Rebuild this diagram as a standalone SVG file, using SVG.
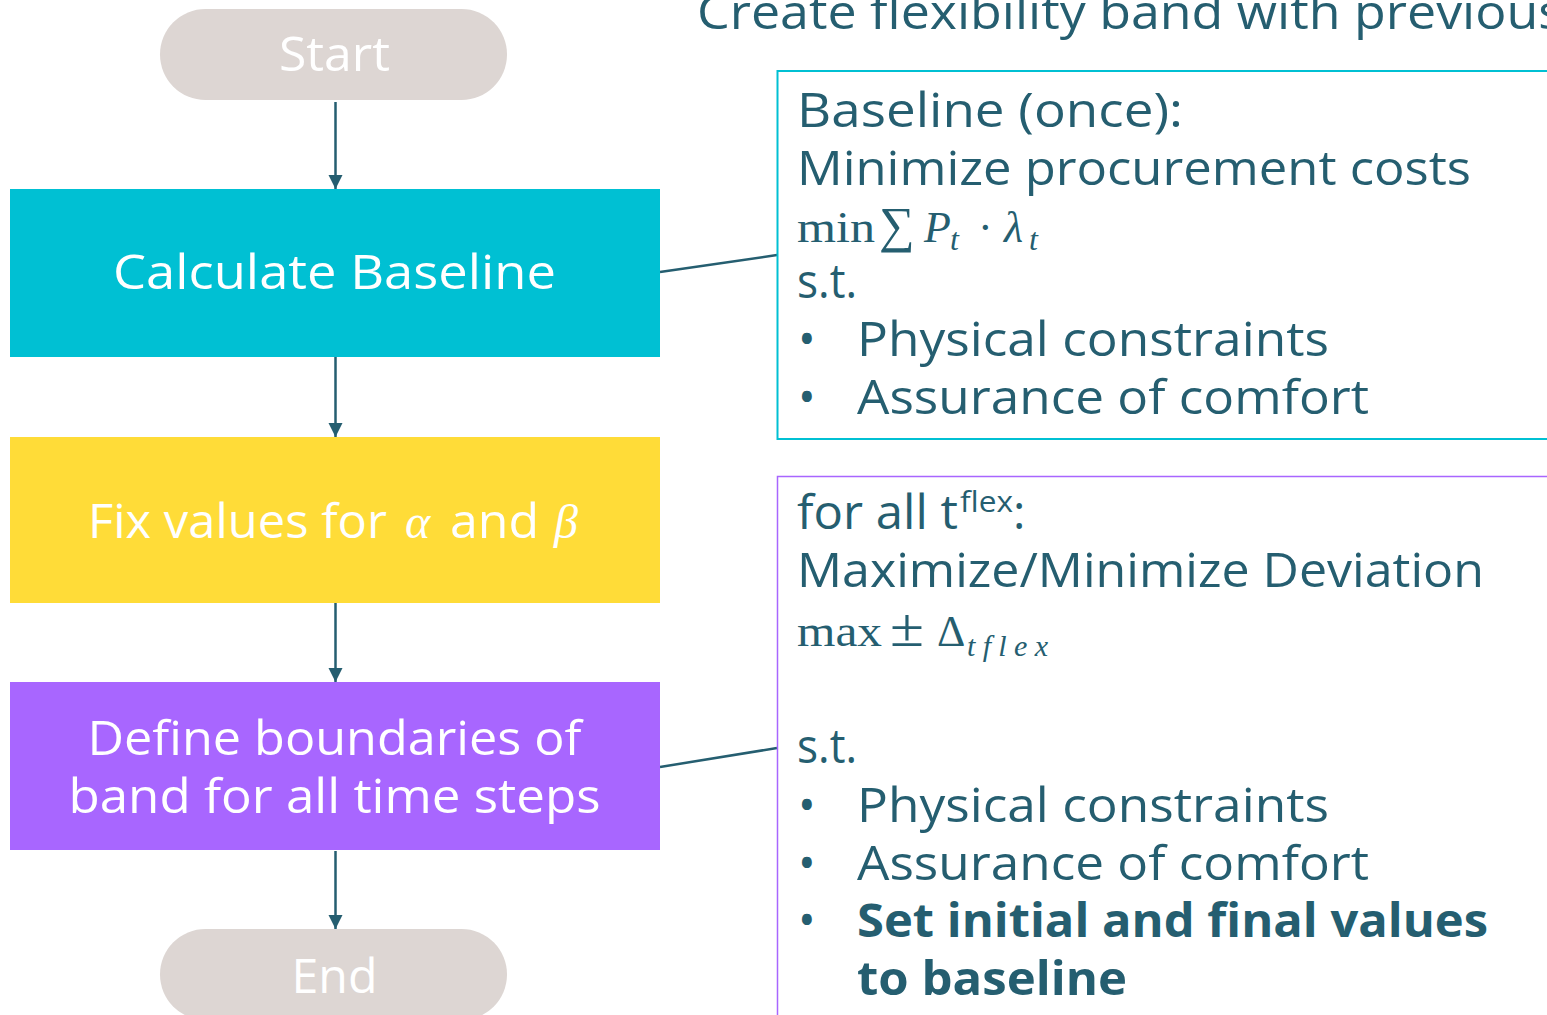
<svg xmlns="http://www.w3.org/2000/svg" width="1547" height="1015" viewBox="0 0 1547 1015">
<defs>
<style>
.t{font-family:"Open Sans","Noto Sans","Liberation Sans",sans-serif;font-size:47px;}
.w{fill:#ffffff;}
.d{fill:#255e70;}
.b{font-weight:700;}
.m{font-family:"Liberation Serif","DejaVu Serif",serif;fill:#255e70;}
.mi{font-style:italic;}
.conn{stroke:#255e70;stroke-width:2.5;fill:none;}
</style>
<marker id="ah" markerUnits="userSpaceOnUse" markerWidth="16" markerHeight="16" refX="14" refY="7" orient="auto">
<path d="M0,0 L14,7 L0,14 z" fill="#255e70"/>
</marker>
</defs>
<rect width="1547" height="1015" fill="#ffffff"/>

<text id="title" class="t d" x="697" y="29" textLength="866" lengthAdjust="spacingAndGlyphs">Create flexibility band with previous</text>

<g id="connectors">
<line class="conn" x1="335.5" y1="102" x2="335.5" y2="189" marker-end="url(#ah)"/>
<line class="conn" x1="335.5" y1="357" x2="335.5" y2="437" marker-end="url(#ah)"/>
<line class="conn" x1="335.5" y1="603" x2="335.5" y2="682" marker-end="url(#ah)"/>
<line class="conn" x1="335.5" y1="851" x2="335.5" y2="929" marker-end="url(#ah)"/>
<line class="conn" x1="660" y1="272" x2="777" y2="255"/>
<line class="conn" x1="660" y1="767" x2="777" y2="748"/>
</g>

<g id="start">
<rect x="160" y="9" width="347" height="91" rx="45.5" fill="#ddd6d3"/>
<text class="t w" x="334.5" y="71" text-anchor="middle" textLength="111" lengthAdjust="spacingAndGlyphs">Start</text>
</g>

<g id="calc">
<rect x="10" y="189" width="650" height="168" fill="#00c0d3"/>
<text class="t w" x="334.5" y="289" text-anchor="middle" textLength="443" lengthAdjust="spacingAndGlyphs">Calculate Baseline</text>
</g>

<g id="fix">
<rect x="10" y="437" width="650" height="166" fill="#ffdc38"/>
<text class="t w" y="538"><tspan x="88" textLength="299" lengthAdjust="spacingAndGlyphs">Fix values for</tspan><tspan x="405" font-family="Liberation Serif,serif" font-style="italic" font-size="48">α</tspan><tspan x="450" textLength="89" lengthAdjust="spacingAndGlyphs">and</tspan><tspan x="554" font-family="Liberation Serif,serif" font-style="italic" font-size="48">β</tspan></text>
</g>

<g id="define">
<rect x="10" y="682" width="650" height="168" fill="#a866ff"/>
<text class="t w" x="334.5" y="755" text-anchor="middle" textLength="494" lengthAdjust="spacingAndGlyphs">Define boundaries of</text>
<text class="t w" x="334.5" y="813" text-anchor="middle" textLength="532" lengthAdjust="spacingAndGlyphs">band for all time steps</text>
</g>

<g id="end">
<rect x="160" y="929" width="347" height="91" rx="45.5" fill="#ddd6d3"/>
<text class="t w" x="334.5" y="993" text-anchor="middle" textLength="86" lengthAdjust="spacingAndGlyphs">End</text>
</g>

<g id="baseline-box">
<rect x="777.5" y="71" width="800" height="368" fill="none" stroke="#00c0d3" stroke-width="2"/>
<text class="t d" x="797" y="127" textLength="386" lengthAdjust="spacingAndGlyphs">Baseline (once):</text>
<text class="t d" x="797" y="185" textLength="674" lengthAdjust="spacingAndGlyphs">Minimize procurement costs</text>
<text class="m" y="242" font-size="44"><tspan x="797" textLength="78" lengthAdjust="spacingAndGlyphs">min</tspan><tspan x="879" font-size="50">∑</tspan><tspan x="924" class="mi">P</tspan><tspan x="950" y="250" class="mi" font-size="32">t</tspan><tspan x="978" y="242">·</tspan><tspan x="1004" class="mi">λ</tspan><tspan x="1029" y="250" class="mi" font-size="32">t</tspan></text>
<text class="t d" x="797" y="298" textLength="60" lengthAdjust="spacingAndGlyphs">s.t.</text>
<text class="t d" x="798" y="356">•</text>
<text class="t d" x="857" y="356" textLength="472" lengthAdjust="spacingAndGlyphs">Physical constraints</text>
<text class="t d" x="798" y="414">•</text>
<text class="t d" x="857" y="414" textLength="512" lengthAdjust="spacingAndGlyphs">Assurance of comfort</text>
</g>

<g id="flex-box">
<rect x="777.5" y="476.5" width="800" height="600" fill="none" stroke="#a866ff" stroke-width="1.5"/>
<text class="t d" y="529"><tspan x="797" textLength="161" lengthAdjust="spacingAndGlyphs">for all t</tspan><tspan x="960" y="512" font-size="29" textLength="53" lengthAdjust="spacingAndGlyphs">flex</tspan><tspan x="1013" y="529">:</tspan></text>
<text class="t d" x="797" y="587" textLength="687" lengthAdjust="spacingAndGlyphs">Maximize/Minimize Deviation</text>
<text class="m" y="646" font-size="44"><tspan x="797" textLength="85" lengthAdjust="spacingAndGlyphs">max</tspan><tspan x="890" font-size="54" textLength="34" lengthAdjust="spacingAndGlyphs">±</tspan><tspan x="937">Δ</tspan><tspan x="967" y="656" class="mi" font-size="30" textLength="81" lengthAdjust="spacing">tflex</tspan></text>
<text class="t d" x="797" y="763" textLength="60" lengthAdjust="spacingAndGlyphs">s.t.</text>
<text class="t d" x="798" y="822">•</text>
<text class="t d" x="857" y="822" textLength="472" lengthAdjust="spacingAndGlyphs">Physical constraints</text>
<text class="t d" x="798" y="880">•</text>
<text class="t d" x="857" y="880" textLength="512" lengthAdjust="spacingAndGlyphs">Assurance of comfort</text>
<text class="t d" x="798" y="937">•</text>
<text class="t d b" x="857" y="937" textLength="631" lengthAdjust="spacingAndGlyphs">Set initial and final values</text>
<text class="t d b" x="857" y="995" textLength="270" lengthAdjust="spacingAndGlyphs">to baseline</text>
</g>
</svg>
